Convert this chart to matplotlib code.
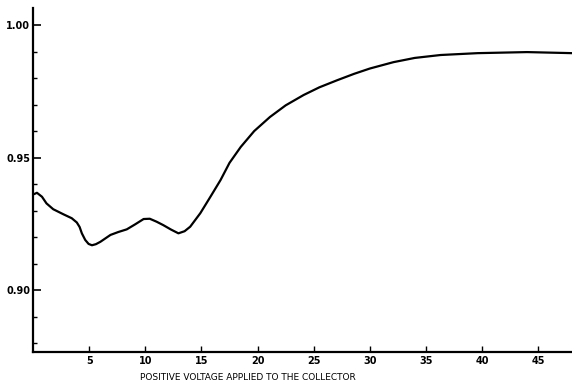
import matplotlib
matplotlib.use("Agg")
import matplotlib.pyplot as plt
import numpy as np

# valeurs (tension du collecteur, rapport)
volts = [0.1, 0.35, 0.8, 1.2, 1.8, 2.7, 3.45, 3.9, 4.15, 4.35, 4.65, 4.95,
         5.25, 5.6, 6.0, 6.9, 7.6, 8.35, 9.1, 9.85, 10.4, 11.0, 11.6, 12.3,
         12.95, 13.5, 14.0, 14.9, 15.8, 16.7, 17.5, 18.5, 19.7, 21.1, 22.5,
         24.1, 25.5, 27.1, 28.6, 30.0, 32.1, 34.0, 36.3, 39.6, 44.0, 48.0]
ratio = [0.9362, 0.9367, 0.9352, 0.9327, 0.9305, 0.9286, 0.9271, 0.9255,
         0.9238, 0.9214, 0.9189, 0.9174, 0.9169, 0.9173, 0.9182, 0.9208,
         0.9219, 0.9229, 0.9248, 0.9268, 0.9269, 0.9258, 0.9245, 0.9228,
         0.9214, 0.9222, 0.9239, 0.9290, 0.9352, 0.9415, 0.9480, 0.9540,
         0.9600, 0.9653, 0.9697, 0.9736, 0.9765, 0.9792, 0.9816, 0.9836,
         0.9860, 0.9876, 0.9887, 0.9894, 0.9898, 0.9894]

x_ticks = [5, 10, 15, 20, 25, 30, 35, 40, 45]
y_ticks = [0.90, 0.95, 1.00]
y_labels = ["0.90", "0.95", "1.00"]

fig = plt.figure(figsize=(5.72, 3.86), dpi=100)
ax = fig.add_axes([0.0577, 0.088, 0.9423, 0.891])

ax.plot(volts, ratio, color="black", linewidth=1.6,
        solid_capstyle="round", solid_joinstyle="round")

ax.set_xlim(0, 48)
ax.set_ylim(0.8766, 1.0064)

ax.spines["top"].set_visible(False)
ax.spines["right"].set_visible(False)
ax.spines["left"].set_linewidth(1.6)
ax.spines["bottom"].set_linewidth(1.6)

ax.set_xticks(x_ticks)
ax.set_xticklabels([str(t) for t in x_ticks], fontsize=7, fontweight="bold")
ax.set_yticks(y_ticks)
ax.set_yticklabels(y_labels, fontsize=7, fontweight="bold")
ax.set_yticks(np.arange(0.88, 1.001, 0.01), minor=True)

ax.tick_params(axis="x", direction="in", length=4, width=1, pad=3)
ax.tick_params(axis="y", which="major", direction="in", length=6, width=1.2, pad=2)
ax.tick_params(axis="y", which="minor", direction="in", length=3, width=1)

fig.text(0.434, 0.022, "POSITIVE VOLTAGE APPLIED TO THE COLLECTOR",
         ha="center", va="center", fontsize=6.5)

fig.savefig("out.png", dpi=100)
